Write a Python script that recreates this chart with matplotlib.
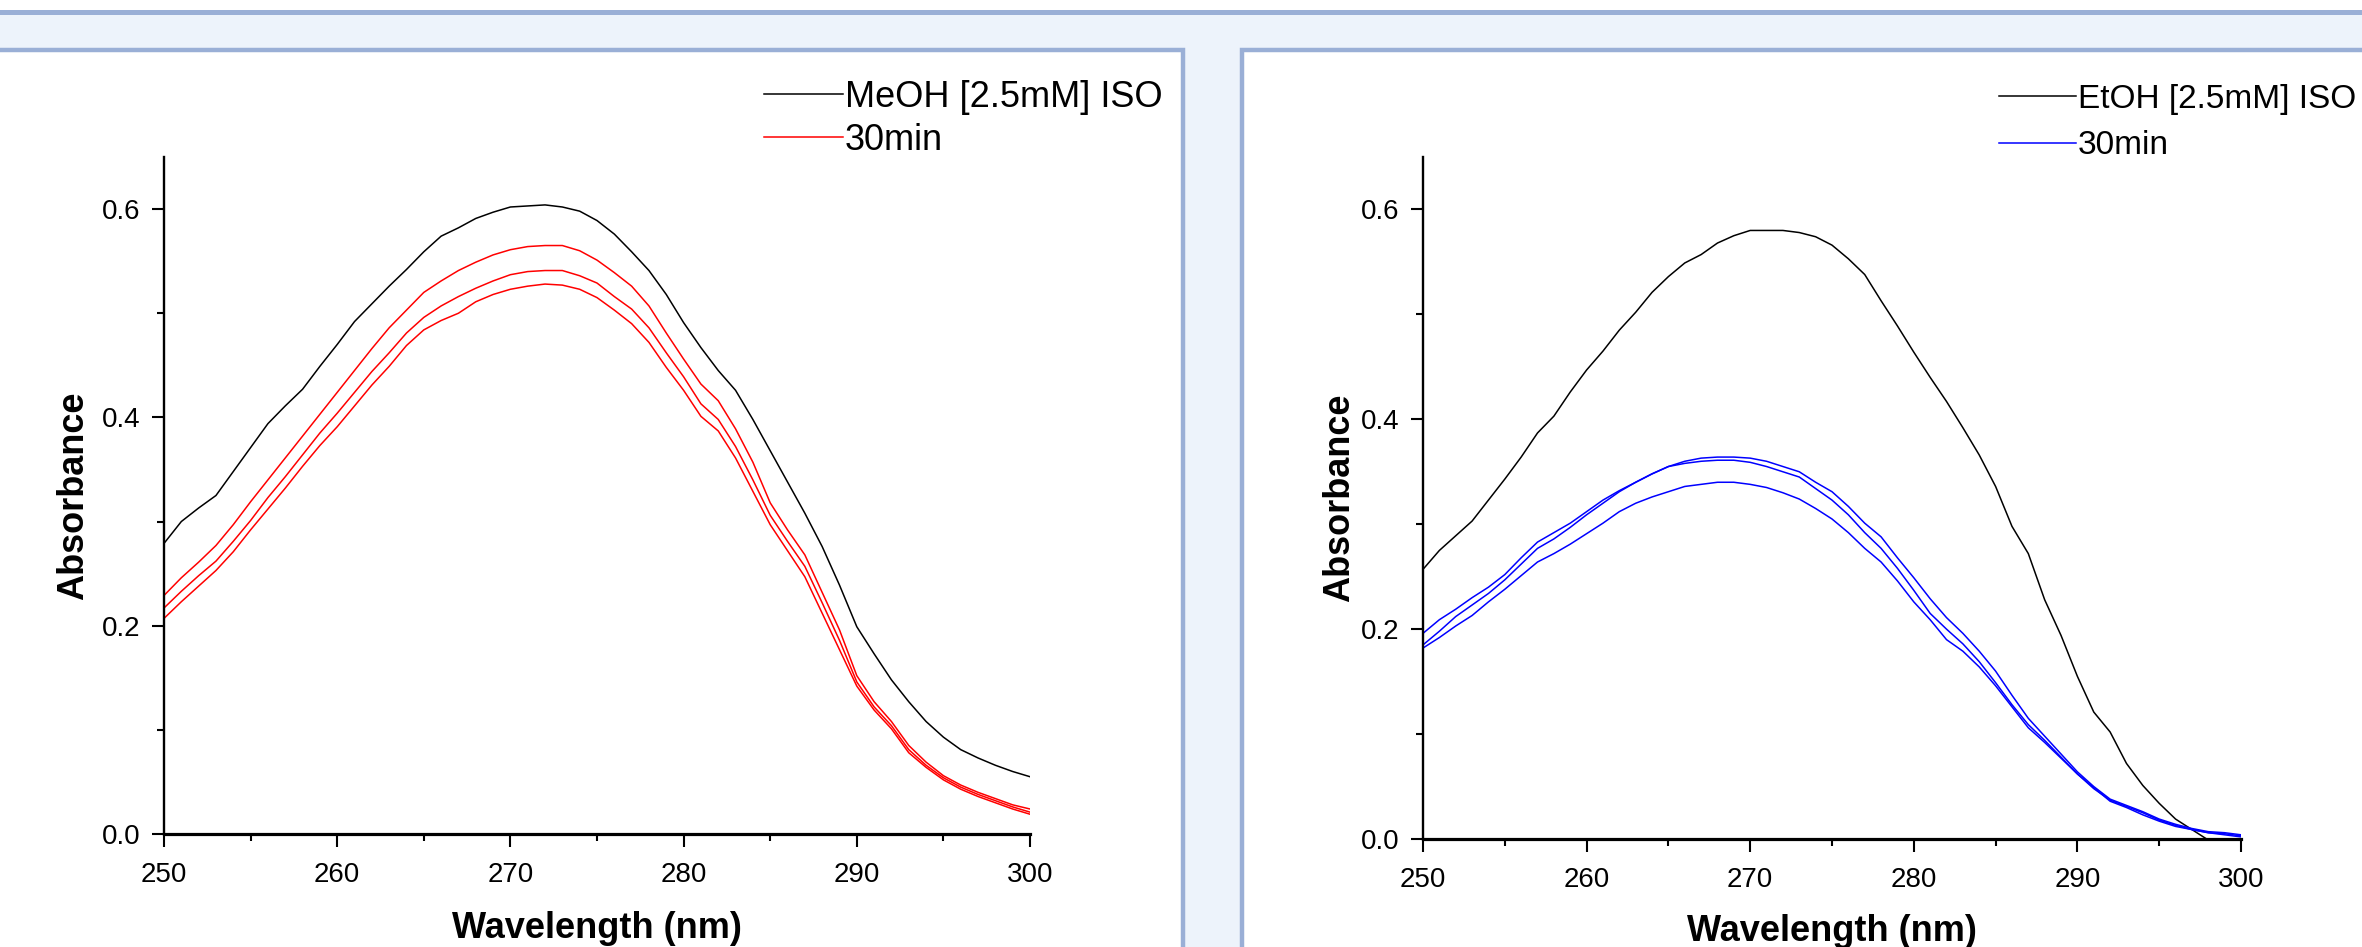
import numpy as np
import matplotlib
matplotlib.use("Agg")
import matplotlib.pyplot as plt
from matplotlib.patches import Rectangle
from matplotlib.ticker import MultipleLocator, FormatStrFormatter

plt.rcParams["font.family"] = ["Liberation Sans", "DejaVu Sans"]

# wavelength grid, 1 nm steps
wavelength = np.arange(250, 301)

# --- methanol panel -------------------------------------------------------
meoh_iso = [0.279, 0.300, 0.313, 0.325, 0.348, 0.371, 0.394, 0.411, 0.427, 0.449,
            0.470, 0.492, 0.509, 0.526, 0.542, 0.559, 0.574, 0.582, 0.591, 0.597,
            0.602, 0.603, 0.604, 0.602, 0.598, 0.589, 0.576, 0.559, 0.541, 0.518,
            0.491, 0.467, 0.445, 0.426, 0.398, 0.368, 0.338, 0.308, 0.276, 0.239,
            0.199, 0.173, 0.148, 0.127, 0.108, 0.093, 0.081, 0.073, 0.066, 0.060,
            0.055]
meoh_30min_a = [0.229, 0.246, 0.261, 0.277, 0.297, 0.319, 0.340, 0.361, 0.382, 0.403,
                0.424, 0.445, 0.466, 0.486, 0.503, 0.520, 0.531, 0.541, 0.549, 0.556,
                0.561, 0.564, 0.565, 0.565, 0.560, 0.551, 0.539, 0.526, 0.507, 0.481,
                0.456, 0.432, 0.416, 0.389, 0.357, 0.318, 0.292, 0.268, 0.232, 0.196,
                0.152, 0.127, 0.108, 0.085, 0.069, 0.056, 0.047, 0.040, 0.034, 0.028,
                0.024]
meoh_30min_b = [0.217, 0.233, 0.248, 0.262, 0.281, 0.301, 0.323, 0.343, 0.364, 0.385,
                0.404, 0.424, 0.444, 0.462, 0.481, 0.496, 0.507, 0.516, 0.524, 0.531,
                0.537, 0.540, 0.541, 0.541, 0.536, 0.529, 0.516, 0.504, 0.486, 0.462,
                0.439, 0.413, 0.398, 0.372, 0.340, 0.306, 0.281, 0.257, 0.222, 0.186,
                0.146, 0.122, 0.104, 0.081, 0.066, 0.054, 0.045, 0.038, 0.032, 0.026,
                0.021]
meoh_30min_c = [0.207, 0.223, 0.238, 0.253, 0.271, 0.292, 0.312, 0.332, 0.353, 0.373,
                0.391, 0.411, 0.431, 0.449, 0.469, 0.484, 0.493, 0.500, 0.511, 0.518,
                0.523, 0.526, 0.528, 0.527, 0.523, 0.515, 0.503, 0.490, 0.472, 0.448,
                0.426, 0.401, 0.387, 0.361, 0.329, 0.297, 0.272, 0.247, 0.212, 0.177,
                0.142, 0.119, 0.101, 0.078, 0.064, 0.052, 0.043, 0.036, 0.030, 0.024,
                0.019]

# --- ethanol panel --------------------------------------------------------
etoh_iso = [0.257, 0.275, 0.289, 0.303, 0.323, 0.343, 0.364, 0.387, 0.403, 0.426,
            0.447, 0.465, 0.485, 0.502, 0.521, 0.536, 0.549, 0.557, 0.568, 0.575,
            0.580, 0.580, 0.580, 0.578, 0.574, 0.566, 0.553, 0.538, 0.513, 0.489,
            0.464, 0.440, 0.417, 0.392, 0.366, 0.336, 0.298, 0.272, 0.228, 0.194,
            0.155, 0.121, 0.102, 0.072, 0.051, 0.034, 0.019, 0.009, -0.001]
etoh_30min_a = [0.196, 0.209, 0.219, 0.230, 0.240, 0.252, 0.268, 0.283, 0.292, 0.301,
                0.312, 0.323, 0.332, 0.340, 0.348, 0.355, 0.360, 0.363, 0.364, 0.364,
                0.363, 0.360, 0.355, 0.350, 0.340, 0.331, 0.317, 0.301, 0.288, 0.268,
                0.249, 0.229, 0.211, 0.196, 0.179, 0.160, 0.137, 0.115, 0.098, 0.081,
                0.064, 0.050, 0.038, 0.032, 0.026, 0.019, 0.014, 0.010, 0.007, 0.006,
                0.004]
etoh_30min_b = [0.185, 0.198, 0.212, 0.223, 0.234, 0.247, 0.262, 0.277, 0.286, 0.297,
                0.309, 0.320, 0.331, 0.340, 0.348, 0.355, 0.358, 0.360, 0.361, 0.361,
                0.359, 0.355, 0.350, 0.345, 0.334, 0.323, 0.309, 0.292, 0.277, 0.258,
                0.237, 0.215, 0.200, 0.186, 0.169, 0.149, 0.128, 0.109, 0.094, 0.078,
                0.062, 0.048, 0.037, 0.031, 0.025, 0.018, 0.013, 0.009, 0.006, 0.005,
                0.003]
etoh_30min_c = [0.182, 0.192, 0.203, 0.213, 0.226, 0.238, 0.251, 0.264, 0.272, 0.281,
                0.291, 0.301, 0.312, 0.320, 0.326, 0.331, 0.336, 0.338, 0.340, 0.340,
                0.338, 0.335, 0.330, 0.324, 0.315, 0.305, 0.292, 0.277, 0.264, 0.246,
                0.226, 0.209, 0.190, 0.179, 0.164, 0.146, 0.126, 0.106, 0.092, 0.077,
                0.062, 0.049, 0.036, 0.030, 0.023, 0.017, 0.012, 0.009, 0.006, 0.004,
                0.002]

W, H = 2362, 947
fig = plt.figure(figsize=(W / 100, H / 100), dpi=100)
fig.patch.set_facecolor("white")

# window-like background: light band with two white panels, drawn in pixels
bg = fig.add_axes([0, 0, 1, 1], zorder=-10)
bg.set_xlim(0, W)
bg.set_ylim(H, 0)
bg.axis("off")
edge = "#9aafd6"
band = "#edf3fb"
bg.add_patch(Rectangle((0, 15), W, H, facecolor=band, edgecolor="none"))
bg.add_patch(Rectangle((0, 10), W, 5, facecolor=edge, edgecolor="none"))
bg.add_patch(Rectangle((-10, 50), 1193, 960, facecolor="white", edgecolor=edge, linewidth=3.2))
bg.add_patch(Rectangle((1242, 50), 1200, 960, facecolor="white", edgecolor=edge, linewidth=3.2))


def style_axes(ax, ylabelpad, xlabelpad):
    ax.set_xlim(250, 300)
    ax.set_ylim(0, 0.65)
    ax.xaxis.set_major_locator(MultipleLocator(10))
    ax.xaxis.set_minor_locator(MultipleLocator(5))
    ax.yaxis.set_major_locator(MultipleLocator(0.2))
    ax.yaxis.set_minor_locator(MultipleLocator(0.1))
    ax.yaxis.set_major_formatter(FormatStrFormatter("%.1f"))
    ax.spines["top"].set_visible(False)
    ax.spines["right"].set_visible(False)
    ax.spines["left"].set_linewidth(1.7)
    ax.spines["bottom"].set_linewidth(2.3)
    ax.tick_params(which="major", direction="out", length=9, width=1.5,
                   labelsize=20)
    ax.tick_params(which="minor", direction="out", length=5, width=1.5)
    ax.tick_params(axis="x", which="major", pad=11)
    ax.tick_params(axis="y", which="major", pad=8)
    ax.set_xlabel("Wavelength (nm)", fontsize=26, fontweight="bold", labelpad=xlabelpad)
    ax.set_ylabel("Absorbance", fontsize=26, fontweight="bold", labelpad=ylabelpad)
    ax.patch.set_alpha(0)


lw = 1.1

# methanol
ax1 = fig.add_axes([164 / W, 1 - 834 / H, 866 / W, 677 / H])
l_iso, = ax1.plot(wavelength, meoh_iso, color="black", lw=lw, label="MeOH [2.5mM] ISO")
l_30, = ax1.plot(wavelength, meoh_30min_a, color="red", lw=lw, label="30min")
ax1.plot(wavelength, meoh_30min_b, color="red", lw=lw)
ax1.plot(wavelength, meoh_30min_c, color="red", lw=lw)
style_axes(ax1, 8, 17)
ax1.legend(handles=[l_iso, l_30], loc="upper left",
           bbox_to_anchor=(764 / W, 1 - 80 / H), bbox_transform=fig.transFigure,
           frameon=False, fontsize=26, handlelength=2.19, handletextpad=0.05,
           borderpad=0, borderaxespad=0, labelspacing=0.22)

# ethanol
ax2 = fig.add_axes([1423 / W, 1 - 839 / H, 818 / W, 682 / H])
e_iso, = ax2.plot(wavelength[:len(etoh_iso)], etoh_iso, color="black", lw=lw,
                  label="EtOH [2.5mM] ISO")
e_30, = ax2.plot(wavelength, etoh_30min_a, color="blue", lw=lw, label="30min")
ax2.plot(wavelength, etoh_30min_b, color="blue", lw=lw)
ax2.plot(wavelength, etoh_30min_c, color="blue", lw=lw)
style_axes(ax2, 3, 15)
ax2.legend(handles=[e_iso, e_30], loc="upper left",
           bbox_to_anchor=(1999 / W, 1 - 84 / H), bbox_transform=fig.transFigure,
           frameon=False, fontsize=24, handlelength=2.31, handletextpad=0.05,
           borderpad=0, borderaxespad=0, labelspacing=0.46)

fig.savefig("out.png", dpi=100)
